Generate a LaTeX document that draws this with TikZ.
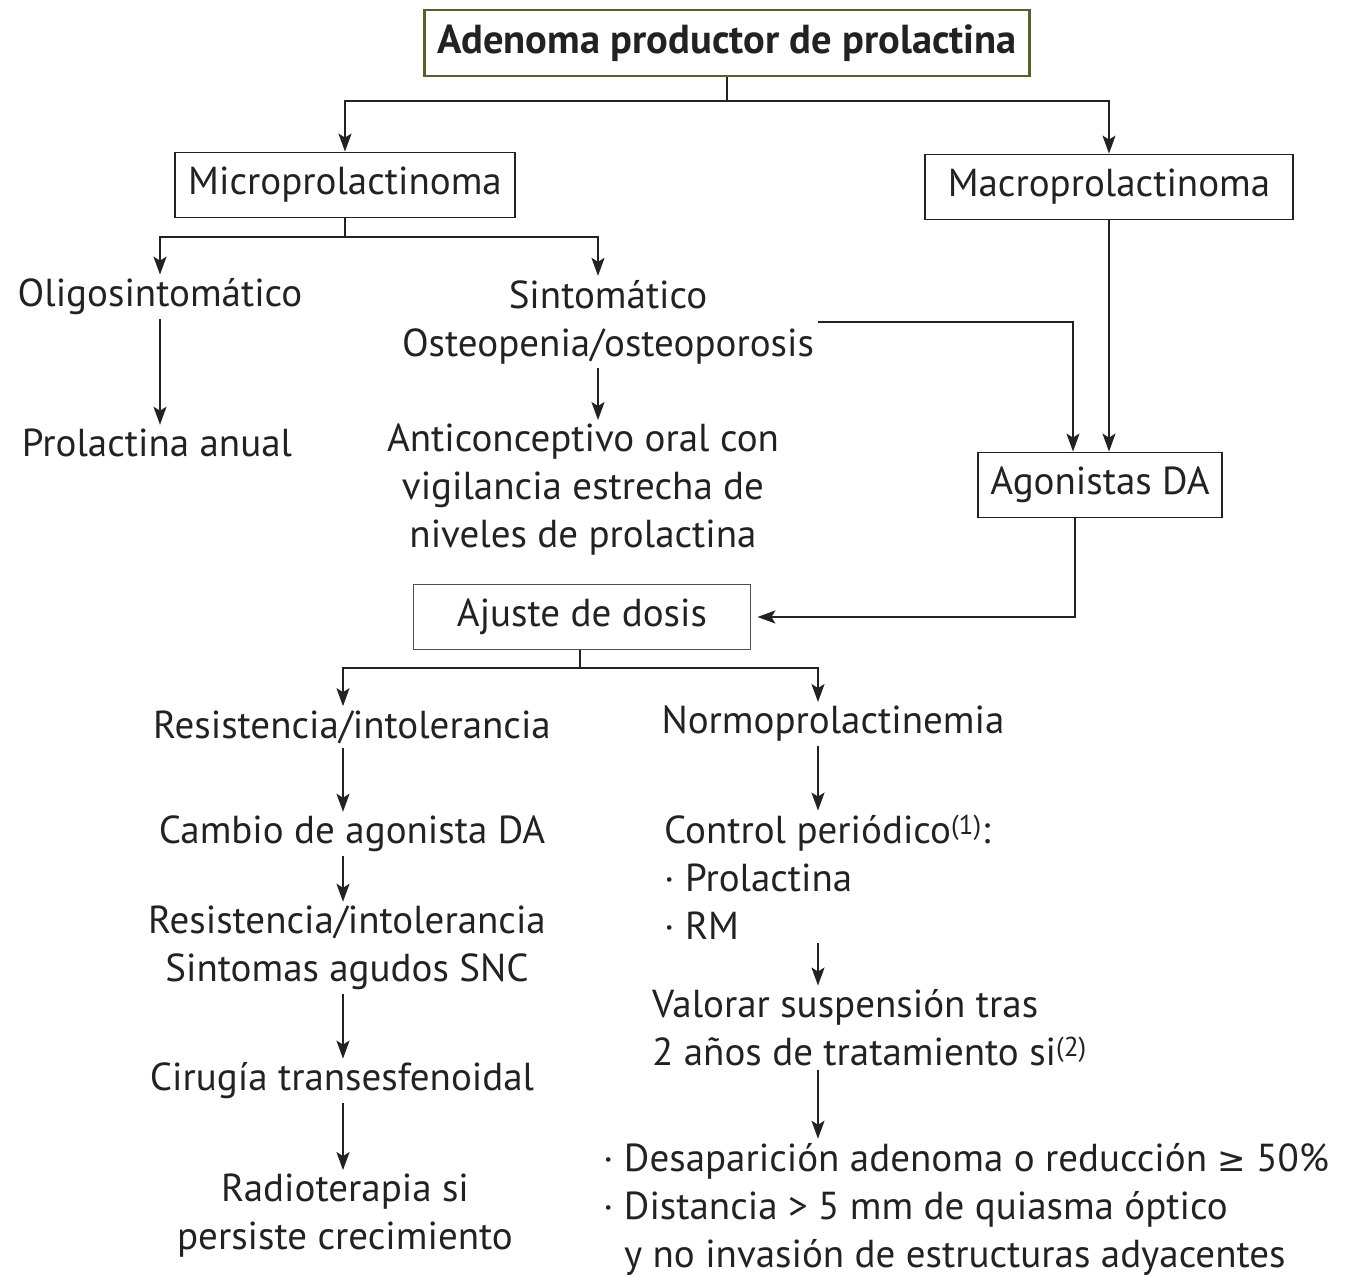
\documentclass[tikz,border=0pt]{standalone}
\usepackage{fontspec}
\setmainfont{PT Sans}
\newfontfamily\symfont{DejaVu Sans}
\usetikzlibrary{arrows.meta,calc}
\definecolor{ink}{HTML}{222222}
\definecolor{topframe}{HTML}{55622E}
\tikzset{
  txt/.style={text=ink,font=\fontsize{39}{48}\selectfont,inner sep=4pt,align=center},
  boxed/.style={txt,draw=ink,line width=1.8pt,inner sep=0pt},
  arr/.style={draw=ink,line width=1.9pt,-{Stealth[length=18pt,width=13pt,inset=4pt]}},
  ln/.style={draw=ink,line width=1.9pt}
}
\begin{document}
\begin{tikzpicture}[x=1pt,y=-1pt]
\useasboundingbox (0,0) rectangle (1345,1277);
% columns
\coordinate (cO) at (160,0);
\coordinate (cS) at (598,0);
\coordinate (cL) at (343,0);
\coordinate (cR) at (818,0);
\coordinate (cA) at (1073,0);
\coordinate (cB) at (1075,0);
\coordinate (cJ) at (580,0);
% boxes
\node[boxed,draw=topframe,line width=2.2pt,font=\fontsize{40.5}{48}\selectfont\bfseries,minimum width=605pt,minimum height=66pt] (top) at (727,43) {Adenoma productor de prolactina};
\node[boxed,minimum width=340pt,minimum height=65pt] (micro) at (345,185) {Microprolactinoma};
\node[boxed,minimum width=368pt,minimum height=65pt] (macro) at (1109,187) {Macroprolactinoma};
\node[boxed,minimum width=244pt,minimum height=65pt] (agon) at (1100,485) {Agonistas DA};
\node[boxed,draw=ink!80,minimum width=337pt,minimum height=65pt] (ajuste) at (582,617) {Ajuste de dosis};
% texts
\node[txt] (oligo) at (160,297) {Oligosintomático};
\node[txt] (anual) at (157,443) {Prolactina anual};
\node[txt] (sint) at (608,322) {Sintomático\\Osteopenia/osteoporosis};
\node[txt] (antic) at (583,490) {Anticonceptivo oral con\\vigilancia estrecha de\\niveles de prolactina};
\node[txt] (res1) at (352,727) {Resistencia/intolerancia};
\node[txt] (cambio) at (352,834) {Cambio de agonista DA};
\node[txt] (res2) at (347,948) {Resistencia/intolerancia\\Sintomas agudos SNC};
\node[txt] (ciru) at (342,1081) {Cirugía transesfenoidal};
\node[txt] (radio) at (345,1216) {Radioterapia si\\persiste crecimiento};
\node[txt] (normo) at (833,724) {Normoprolactinemia};
\node[txt,align=left,anchor=west] (control) at (660,877) {Control periódico\textsuperscript{(1)}:\\· Prolactina\\· RM};
\node[txt,align=left,anchor=west] (valorar) at (648,1028) {Valorar suspensión tras\\2 años de tratamiento si\textsuperscript{(2)}};
\node[txt,align=left,anchor=west] (final) at (599,1209) {· Desaparición adenoma o reducción {\symfont\fontsize{34}{48}\selectfont ≥} 50\%\\· Distancia > 5 mm de quiasma óptico\\\hphantom{· }y no invasión de estructuras adyacentes};
% connectors
\draw[arr] (top.south) -- ++(0,24) -| (micro.north);
\draw[arr] (top.south) -- ++(0,24) -| (macro.north);
\draw[arr] (micro.south) -- ++(0,19) -| (oligo.north);
\draw[arr] (micro.south) -- ++(0,19) -| (sint.north -| cS);
\draw[arr] (oligo.south) -- (anual.north -| oligo.south);
\draw[arr] (sint.south -| cS) -- (antic.north -| cS);
\draw[arr] (sint.east) -| (agon.north -| cA);
\draw[arr] (macro.south) -- (agon.north -| macro.south);
\draw[arr,shorten >=6pt] (agon.south -| cB) |- (ajuste.east);
\draw[arr] (ajuste.south -| cJ) -- ++(0,18) -| (res1.north -| cL);
\draw[arr] (ajuste.south -| cJ) -- ++(0,18) -| (normo.north -| cR);
\draw[arr] (res1.south -| cL) -- (cambio.north -| cL);
\draw[arr] (cambio.south -| cL) -- (res2.north -| cL);
\draw[arr] (res2.south -| cL) -- (ciru.north -| cL);
\draw[arr] (ciru.south -| cL) -- (radio.north -| cL);
\draw[arr] (normo.south -| cR) -- (control.north -| cR);
\draw[arr] (control.south -| cR) -- (valorar.north -| cR);
\draw[arr] (valorar.south -| cR) -- (final.north -| cR);
\end{tikzpicture}
\end{document}
